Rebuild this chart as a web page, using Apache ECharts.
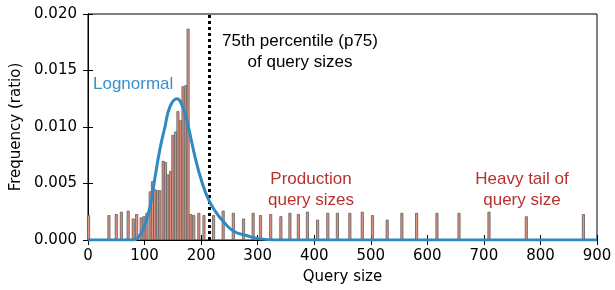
<!DOCTYPE html>
<html>
<head>
<meta charset="utf-8">
<script src="https://cdn.jsdelivr.net/npm/echarts@6/dist/echarts.min.js"></script>
<style>
  html, body { margin: 0; padding: 0; background: #fff; }
  #main { width: 615px; height: 290px; }
</style>
</head>
<body>
<div id="main"></div>
<script>
// histogram bins (query size) and their frequency
var binX = [1, 37, 50, 59, 71, 80, 86, 94, 99, 104,
            110, 114, 118, 123, 127, 133, 137, 141, 146, 150,
            155, 159, 164, 168, 173, 177, 182, 187, 196, 205,
            222, 239, 257, 275, 292, 305, 323, 341, 357, 372,
            388, 406, 424, 441, 463, 485, 503, 529, 555, 581,
            617, 656, 709, 775, 876];
var binFreq = [0.0022, 0.0022, 0.0023, 0.0025, 0.0026, 0.0019, 0.0023, 0.0020, 0.0021, 0.0024,
               0.0043, 0.0052, 0.0045, 0.0044, 0.0044, 0.0070, 0.0069, 0.0058, 0.0061, 0.0093,
               0.0096, 0.0114, 0.0106, 0.0136, 0.0137, 0.0187, 0.0023, 0.0022, 0.0024, 0.0022,
               0.0022, 0.0026, 0.0024, 0.0019, 0.0024, 0.0022, 0.0023, 0.0021, 0.0024, 0.0023,
               0.0025, 0.0018, 0.0024, 0.0024, 0.0024, 0.0025, 0.0022, 0.0018, 0.0024, 0.0024,
               0.0024, 0.0024, 0.0025, 0.0021, 0.0023];

// lognormal fit
var fitX = [0, 80, 90, 98, 110, 118, 127, 136, 145, 157, 168, 177, 189, 201, 213, 227, 240, 257, 280, 304, 330, 900];
var fitY = [0, 0, 0.0003, 0.0010, 0.0030, 0.0054, 0.0080, 0.0100, 0.0118, 0.0125, 0.0117, 0.0101,
            0.0074, 0.0052, 0.0036, 0.0024, 0.0016, 0.0008, 0.0004, 0.0001, 0, 0];

var p75 = 215;

var xTicks = [0, 900, 100];
var yTicks = [0, 0.020, 0.005];

var bars = binX.map(function (x, i) { return [x, binFreq[i]]; });
var fit = fitX.map(function (x, i) { return [x, fitY[i]]; });

var tickFont = { fontFamily: 'DejaVu Sans', fontSize: 15, color: '#000' };
var noteFont = 'Liberation Sans';

var myChart = echarts.init(document.getElementById('main'));
var option = {
    animation: false,
    backgroundColor: '#fff',
    grid: {
        left: 88, right: 18, top: 14, bottom: 49,
        show: true, borderColor: '#000', borderWidth: 1
    },
    xAxis: [
        {
            type: 'value', min: xTicks[0], max: xTicks[1], interval: xTicks[2],
            name: 'Query size', nameLocation: 'middle', nameGap: 30,
            nameTextStyle: { fontFamily: 'DejaVu Sans', fontSize: 15, color: '#000' },
            axisLine: { lineStyle: { color: '#000' } },
            axisTick: { inside: true, length: 5, lineStyle: { color: '#000' } },
            axisLabel: Object.assign({ margin: 9 }, tickFont),
            splitLine: { show: false }
        },
        {
            type: 'value', position: 'top', min: xTicks[0], max: xTicks[1], interval: xTicks[2],
            axisLine: { lineStyle: { color: '#000' } },
            axisTick: { inside: true, length: 5, lineStyle: { color: '#000' } },
            axisLabel: { show: false },
            splitLine: { show: false }
        }
    ],
    yAxis: [
        {
            type: 'value', min: yTicks[0], max: yTicks[1], interval: yTicks[2],
            name: 'Frequency (ratio)', nameLocation: 'middle', nameGap: 61, nameRotate: 90,
            nameTextStyle: { fontFamily: 'DejaVu Sans', fontSize: 15, color: '#000' },
            axisLine: { lineStyle: { color: '#000' } },
            axisTick: { inside: true, length: 5, lineStyle: { color: '#000' } },
            axisLabel: Object.assign({
                margin: 11,
                formatter: function (v) { return v.toFixed(3); }
            }, tickFont),
            splitLine: { show: false }
        },
        {
            type: 'value', position: 'right', min: yTicks[0], max: yTicks[1], interval: yTicks[2],
            axisLine: { lineStyle: { color: '#000' } },
            axisTick: { inside: true, length: 5, lineStyle: { color: '#000' } },
            axisLabel: { show: false },
            splitLine: { show: false }
        }
    ],
    series: [
        {
            name: 'hist',
            type: 'bar',
            barWidth: 3,
            data: bars,
            itemStyle: { color: '#e0907e', borderColor: '#5e5e5e', borderWidth: 0.8 },
            markLine: {
                silent: true,
                symbol: 'none',
                label: { show: false },
                lineStyle: { color: '#000', type: [3, 3], width: 3 },
                data: [{ xAxis: p75 }],
                z: 4
            }
        },
        {
            name: 'Lognormal',
            type: 'line',
            smooth: true,
            showSymbol: false,
            data: fit,
            lineStyle: { color: '#2e8ac2', width: 3 },
            z: 5
        }
    ],
    graphic: [
        { type: 'text', left: 93, top: 76,
          style: { text: 'Lognormal', fill: '#3a8fcc', font: '17px "' + noteFont + '"' } },
        { type: 'text', x: 300, y: 31,
          style: { text: '75th percentile (p75)\nof query sizes', fill: '#000', align: 'center',
                   lineHeight: 21, font: '17px "' + noteFont + '"' } },
        { type: 'text', x: 311, y: 169,
          style: { text: 'Production\nquery sizes', fill: '#b8312f', align: 'center',
                   lineHeight: 21, font: '17px "' + noteFont + '"' } },
        { type: 'text', x: 522, y: 169,
          style: { text: 'Heavy tail of\nquery size', fill: '#b8312f', align: 'center',
                   lineHeight: 21, font: '17px "' + noteFont + '"' } }
    ]
};
myChart.setOption(option);
</script>
</body>
</html>
